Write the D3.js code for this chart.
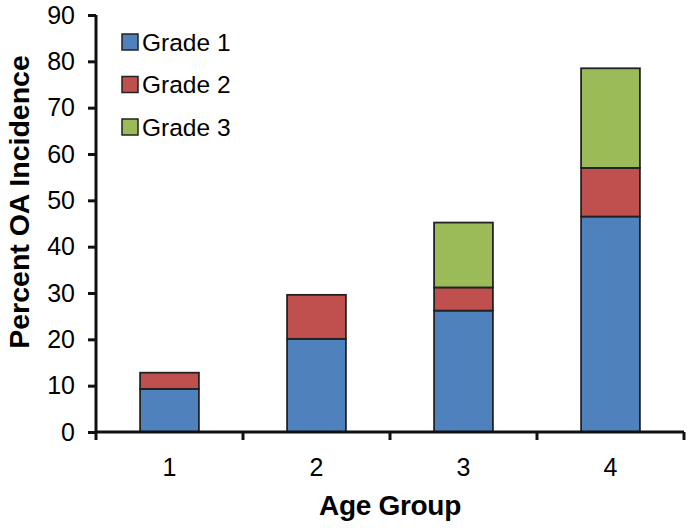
<!DOCTYPE html>
<html><head><meta charset="utf-8">
<script src="https://cdn.jsdelivr.net/npm/d3@7"></script>
<style>body{margin:0;background:#fff}svg{display:block}</style>
</head><body><svg id="c" width="695" height="528"></svg>
<script>
const categories = ["1","2","3","4"];
const grade1 = [9.3, 20.1, 26.2, 46.5];
const grade2 = [3.5, 9.5, 5.0, 10.5];
const grade3 = [0, 0, 14.0, 21.5];
const seriesNames = ["Grade 1","Grade 2","Grade 3"];
const colors = ["#4F81BD","#C0504D","#9BBB59"];
const yTicks = [0,10,20,30,40,50,60,70,80,90];

const svg = d3.select("#c");
const mL = 96, mR = 684, mT = 15, mB = 432;
const font = "Liberation Sans, Arial, sans-serif";

const x = d3.scaleBand().domain(categories).range([mL, mR]).padding(0);
const y = d3.scaleLinear().domain([0, 90]).range([mB, mT]);

const rows = categories.map((c, i) => ({cat: c, "Grade 1": grade1[i], "Grade 2": grade2[i], "Grade 3": grade3[i]}));
const stack = d3.stack().keys(seriesNames)(rows);

const bw = x.bandwidth() * 0.4;
stack.forEach((s, si) => {
  svg.append("g").selectAll("rect").data(s.filter(d => d[1] - d[0] > 0)).join("rect")
    .attr("x", d => x(d.data.cat) + (x.bandwidth() - bw) / 2)
    .attr("y", d => y(d[1]))
    .attr("width", bw)
    .attr("height", d => y(d[0]) - y(d[1]))
    .attr("fill", colors[si])
    .attr("stroke", "#222")
    .attr("stroke-width", 1.8);
});

// Y axis
const yAxis = svg.append("g").attr("transform", `translate(${mL},0)`)
  .call(d3.axisLeft(y).tickValues(yTicks).tickSize(8).tickPadding(13));
yAxis.select(".domain").attr("stroke", "#111").attr("stroke-width", 3).attr("d", `M0,${mT}V${mB}`);
yAxis.selectAll(".tick line").attr("stroke", "#111").attr("stroke-width", 3);
yAxis.selectAll(".tick text").attr("font-family", font).attr("font-size", 25).attr("fill", "#000");

// X axis
const xAxis = svg.append("g").attr("transform", `translate(0,${mB})`)
  .call(d3.axisBottom(x).tickSize(0).tickPadding(26));
xAxis.select(".domain").attr("stroke", "#111").attr("stroke-width", 3).attr("d", `M${mL},0H${mR}`);
xAxis.selectAll(".tick text").attr("font-family", font).attr("font-size", 25).attr("fill", "#000");
const bounds = categories.map(c => x(c)).concat([x.range()[1]]);
xAxis.selectAll(".bt").data(bounds).join("line").attr("class", "bt")
  .attr("x1", d => d).attr("x2", d => d).attr("y1", 0).attr("y2", 8)
  .attr("stroke", "#111").attr("stroke-width", 3);

// Axis titles
svg.append("text").attr("x", 390).attr("y", 515)
  .attr("text-anchor", "middle").attr("font-family", font).attr("font-weight", "bold")
  .attr("font-size", 28).attr("letter-spacing", -0.3).text("Age Group");
svg.append("text").attr("transform", `translate(28.5,202) rotate(-90)`)
  .attr("text-anchor", "middle").attr("font-family", font).attr("font-weight", "bold")
  .attr("font-size", 28.5).text("Percent OA Incidence");

// Legend
const lg = svg.append("g").selectAll("g").data(seriesNames).join("g")
  .attr("transform", (d, i) => `translate(122,${42 + i * 42.5})`);
lg.append("rect").attr("x", 0).attr("y", -8).attr("width", 16).attr("height", 16)
  .attr("fill", (d, i) => colors[i]).attr("stroke", "#222").attr("stroke-width", 1.5);
lg.append("text").attr("x", 20).attr("y", 8.5).attr("font-family", font).attr("font-size", 24.5)
  .text(d => d);
</script></body></html>
